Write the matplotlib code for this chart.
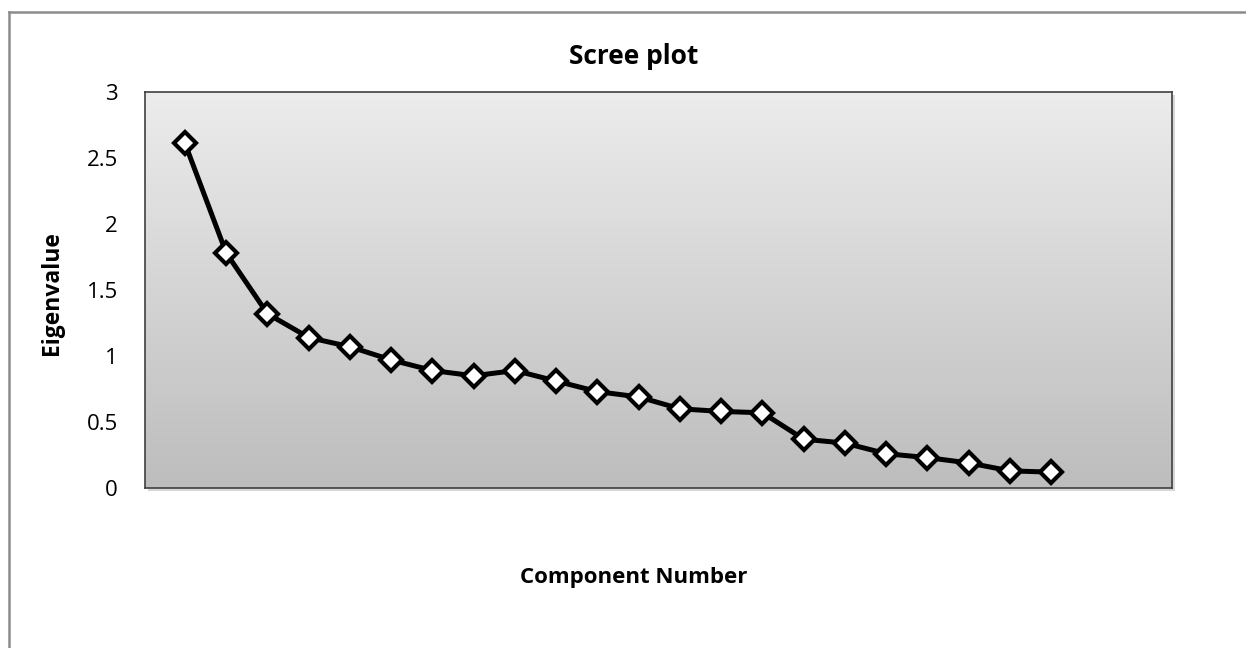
import numpy as np
import matplotlib
matplotlib.use("Agg")
import matplotlib.pyplot as plt
from matplotlib.lines import Line2D
from matplotlib.patches import Rectangle

# Data
components = list(range(1, 23))
eigenvalues = [2.61, 1.78, 1.32, 1.14, 1.07, 0.97, 0.89, 0.85, 0.89, 0.81,
               0.73, 0.69, 0.60, 0.58, 0.57, 0.37, 0.34, 0.26, 0.23, 0.19,
               0.13, 0.12]
y_ticks = [0, 0.5, 1, 1.5, 2, 2.5, 3]
y_tick_labels = ["0", "0.5", "1", "1.5", "2", "2.5", "3"]

plt.rcParams['font.family'] = ['Open Sans', 'DejaVu Sans']

W, H = 1246, 648
fig = plt.figure(figsize=(W / 100, H / 100), dpi=100)
ax_box = [145 / W, 1 - 488 / H, (1172 - 145) / W, (488 - 92) / H]

# soft shadow under the plot area
fig.add_artist(Rectangle((ax_box[0] + 3 / W, ax_box[1] - 3 / H), ax_box[2], ax_box[3],
                         transform=fig.transFigure, facecolor="#b0b0b0",
                         edgecolor="none", alpha=0.5, zorder=0))

ax = fig.add_axes(ax_box)

# grey gradient background of the plot area
grad = np.linspace(0, 1, 256).reshape(-1, 1)
ax.imshow(grad, cmap=matplotlib.colors.LinearSegmentedColormap.from_list(
    "g", ["#ececec", "#bdbdbd"]), aspect="auto", extent=[0, 1, 0, 1],
    transform=ax.transAxes, zorder=0)

ax.plot(components, eigenvalues, color="black", lw=3.6, marker="D",
        markersize=11, markerfacecolor="white", markeredgecolor="black",
        markeredgewidth=3.0, zorder=3, clip_on=False)

ax.set_xlim(0.03, 24.93)
ax.set_ylim(0, 3)
ax.set_xticks([])
ax.set_yticks(y_ticks)
ax.set_yticklabels(y_tick_labels, fontsize=16)
ax.tick_params(axis="y", length=0, pad=19.5)
for s in ax.spines.values():
    s.set_color("#404040")
    s.set_linewidth(1.2)

fig.text(634 / W, 1 - 56 / H, "Scree plot", fontsize=19, fontweight="bold",
         ha="center", va="center")
fig.text(52 / W, 1 - 293 / H, "Eigenvalue", rotation=90, fontsize=16.5,
         fontweight="bold", ha="center", va="center")
fig.text(634 / W, 1 - 577 / H, "Component Number", fontsize=16,
         fontweight="bold", ha="center", va="center")

# outer chart frame (only left and top edges visible)
fig.add_artist(Line2D([9 / W, 9 / W], [0, 1 - 12 / H], color="#8c8c8c", lw=1.8))
fig.add_artist(Line2D([9 / W, 1], [1 - 12 / H, 1 - 12 / H], color="#8c8c8c", lw=1.8))

fig.savefig("out.png", dpi=100)
